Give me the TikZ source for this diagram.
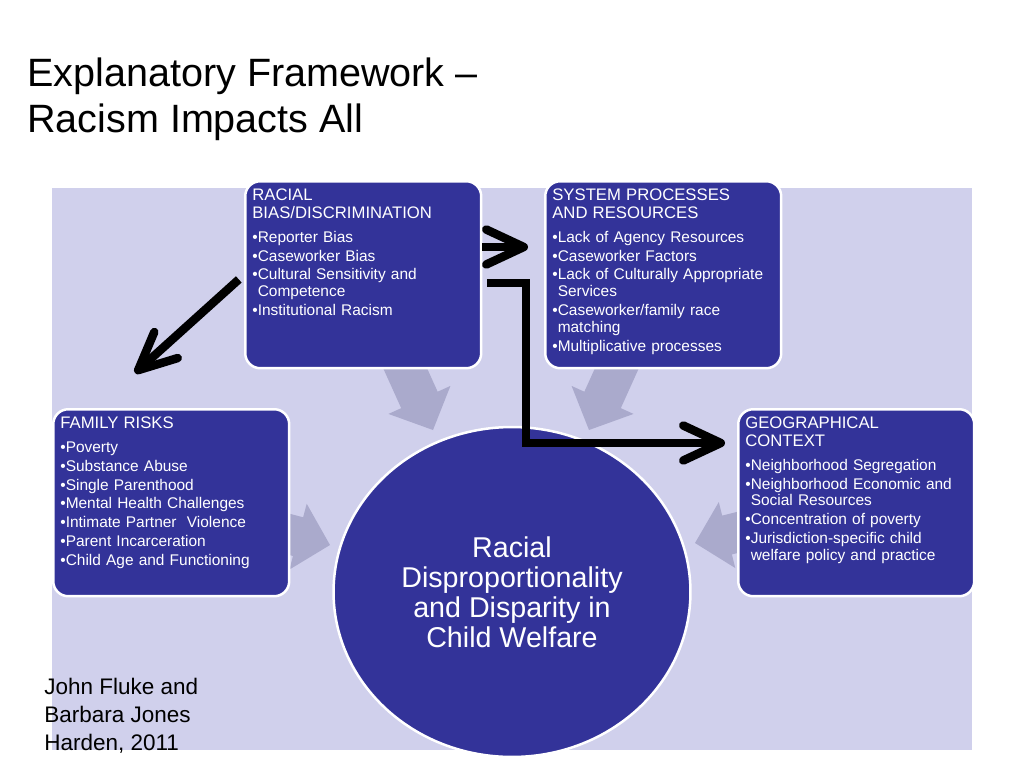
\documentclass[tikz,border=0pt]{standalone}
\usepackage{fontspec}
\setmainfont{Liberation Sans}
\usetikzlibrary{shapes.geometric,arrows.meta}

\definecolor{bleu}{RGB}{51,51,153}
\definecolor{lavande}{RGB}{208,208,236}
\definecolor{grisbleu}{RGB}{170,170,204}

% titre de cadre et puces
\newcommand\entete[1]{{\fontsize{9.5}{10.2}\selectfont #1\par}\vskip2.9pt}
\newcommand\puce[1]{\par\vskip1.1pt\setbox0\hbox{\textbullet}\hangindent=\wd0\hangafter=1\noindent\box0 #1}

\begin{document}
\begin{tikzpicture}[x=0.02cm, y=-0.02cm,
  cadre/.style={rectangle, rounded corners=0.3cm, fill=bleu, draw=white, line width=0.05cm,
    minimum width=4.72cm, minimum height=3.74cm, anchor=north west, inner sep=0pt},
  texte/.style={anchor=north west, inner sep=0pt, xshift=0.16cm, yshift=-0.17cm,
    text width=4.5cm, align=left, text=white, font=\fontsize{8.8}{9.6}\selectfont},
  rond/.style={ellipse, fill=bleu, draw=white, line width=0.05cm, minimum width=7.14cm,
    minimum height=6.6cm, inner sep=0pt, text=white, align=center,
    font=\fontsize{16.3}{17}\selectfont},
  fleche/.style={line width=0.17cm, -{Straight Barb[length=0.75cm, width=0.7cm, round]}}]
\useasboundingbox (0,0) rectangle (1024,768);

% titre
\node[anchor=north west, inner sep=0pt, align=left, font=\fontsize{22.5}{26.6}\selectfont]
  (titre) at (27,57) {Explanatory Framework --\\Racism Impacts All};

% fond
\fill[lavande] (52,188) rectangle (972,750);

% fleches grises vers le centre
\foreach \x/\y/\a in {330/545/-14.7, 695/543/194, 433/430/-65.7, 589/430/-114.3} {
  \fill[grisbleu, shift={(\x,\y)}, rotate=\a] (0,0) -- (-33,34) -- (-33,20) -- (-110,20)
    -- (-110,-20) -- (-33,-20) -- (-33,-34) -- cycle;
}

% cadres
\node[cadre] (racial) at (244,180) {};
\node[cadre] (system) at (544,180) {};
\node[cadre] (family) at (52,408) {};
\node[cadre] (geo) at (737,408) {};

\node[texte] (racialtxt) at (racial.north west) {\entete{RACIAL\\BIAS/DISCRIMINATION}%
  \puce{Reporter Bias}\puce{Caseworker Bias}\puce{Cultural Sensitivity and\newline Competence}%
  \puce{Institutional Racism}\par};
\node[texte] (systemtxt) at (system.north west) {\entete{SYSTEM PROCESSES\\AND RESOURCES}%
  \puce{Lack of Agency Resources}\puce{Caseworker Factors}%
  \puce{Lack of Culturally Appropriate\newline Services}\puce{Caseworker/family race\newline matching}%
  \puce{Multiplicative processes}\par};
\node[texte] (familytxt) at (family.north west) {\entete{FAMILY RISKS}%
  \puce{Poverty}\puce{Substance Abuse}\puce{Single Parenthood}\puce{Mental Health Challenges}%
  \puce{Intimate Partner\ \ Violence}\puce{Parent Incarceration}\puce{Child Age and Functioning}\par};
\node[texte] (geotxt) at (geo.north west) {\entete{GEOGRAPHICAL\\CONTEXT}%
  \puce{Neighborhood Segregation}\puce{Neighborhood Economic and\newline Social Resources}%
  \puce{Concentration of poverty}\puce{Jurisdiction-specific child\newline welfare policy and practice}\par};

% cercle central
\node[rond] (centre) at (512,592) {Racial\\Disproportionality\\and Disparity in\\Child Welfare};

% fleches noires
\coordinate (pointeA) at (135,373);
\coordinate (pointeB) at (528,247);
\coordinate (depart) at (487,283);
\coordinate (coude) at (526,443);
\draw[fleche, shorten <=0.14cm] (racial.west) -- (pointeA);
\draw[fleche] (pointeB -| racial.east) -- (pointeB);
\draw[fleche, shorten >=0.24cm] (depart) -| (coude) -- (coude -| geo.west);

% auteurs
\node[anchor=north west, inner sep=0pt, align=left, font=\fontsize{12.8}{15.9}\selectfont]
  (auteurs) at (44,678) {John Fluke and\\Barbara Jones\\Harden, 2011};
\end{tikzpicture}
\end{document}
